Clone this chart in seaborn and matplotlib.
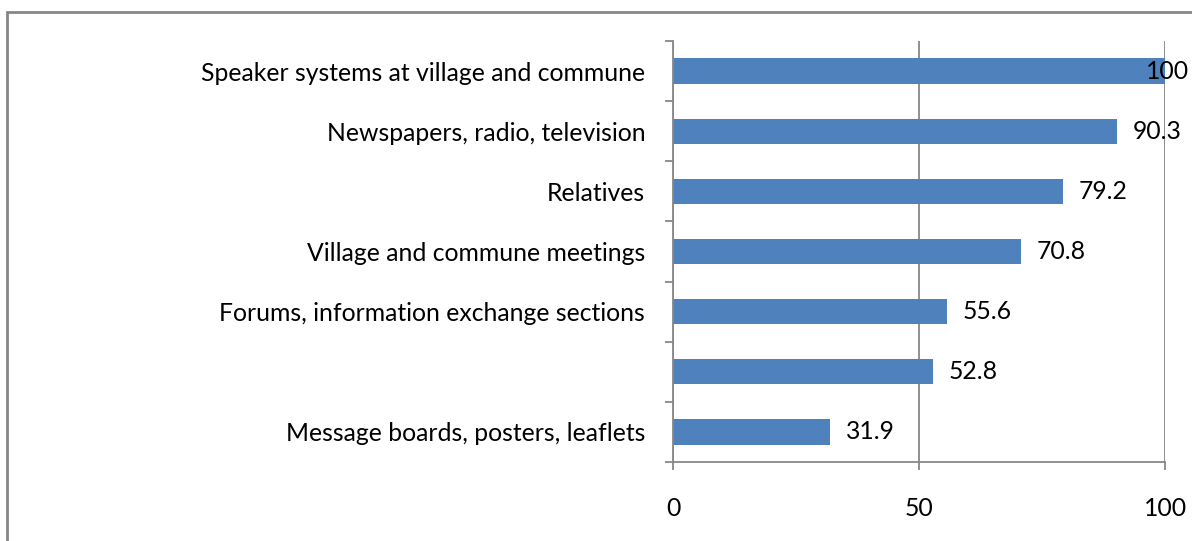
import matplotlib
matplotlib.use("Agg")
import matplotlib.pyplot as plt
from matplotlib.patches import Rectangle
from matplotlib.ticker import FixedLocator, NullFormatter
import seaborn as sns
import pandas as pd

# Information sources and the share of respondents using each (%)
sources = [
    "Speaker systems at village and commune",
    "Newspapers, radio, television",
    "Relatives",
    "Village and commune meetings",
    "Forums, information exchange sections",
    "",
    "Message boards, posters, leaflets",
]
shares = [100, 90.3, 79.2, 70.8, 55.6, 52.8, 31.9]
x_ticks = [0, 50, 100]

df = pd.DataFrame({"source": sources, "share": shares})

sns.set_theme(style="white")
plt.rcParams["font.family"] = ["Lato", "DejaVu Sans"]

W, H, DPI = 1192, 541, 100
FS = 17.8
fig = plt.figure(figsize=(W / DPI, H / DPI), dpi=DPI)
fig.patch.set_facecolor("white")
ax = fig.add_axes([673 / W, 1 - 462 / H, (1165 - 673) / W, (462 - 41) / H])

bar_color = "#4F81BD"
grey = "#878787"
sns.barplot(data=df, x="share", y="source", order=sources, color=bar_color,
            width=0.42, saturation=1, ax=ax, edgecolor="none")

ax.set_xlim(0, 100)
ax.set_ylim(len(sources) - 0.5, -0.5)
ax.set_xticks(x_ticks)
ax.set_xticklabels([str(t) for t in x_ticks], fontsize=FS)
ax.set_xlabel("")
ax.set_ylabel("")

# vertical gridlines at the major x ticks
ax.xaxis.grid(True, color=grey, linewidth=1.3)
ax.set_axisbelow(True)

for side in ("top", "right"):
    ax.spines[side].set_visible(False)
for side in ("left", "bottom"):
    ax.spines[side].set_color(grey)
    ax.spines[side].set_linewidth(1.3)

# category labels without ticks; boundary ticks between categories
ax.tick_params(axis="y", which="major", length=0, pad=20, labelsize=FS,
               labelcolor="black")
ax.yaxis.set_minor_locator(FixedLocator([i - 0.5 for i in range(len(sources) + 1)]))
ax.yaxis.set_minor_formatter(NullFormatter())
ax.tick_params(axis="y", which="minor", length=6, width=1.3, color=grey, left=True)
ax.tick_params(axis="x", which="major", length=6, width=1.3, color=grey,
               bottom=True, pad=19, labelcolor="black")

# value labels at the end of each bar, kept inside the chart area
for i, v in enumerate(shares):
    ax.text(min(v + 3.2, 96.2), i, f"{v:g}", va="center", ha="left",
            fontsize=FS, color="black", clip_on=False)

# outer chart frame
fig.patches.append(Rectangle((7.5 / W, -0.2), 1.3, 1.2 - 11.5 / H,
                             transform=fig.transFigure, fill=False,
                             edgecolor=grey, linewidth=2, zorder=0))

fig.savefig("out.png", dpi=DPI, facecolor="white")
